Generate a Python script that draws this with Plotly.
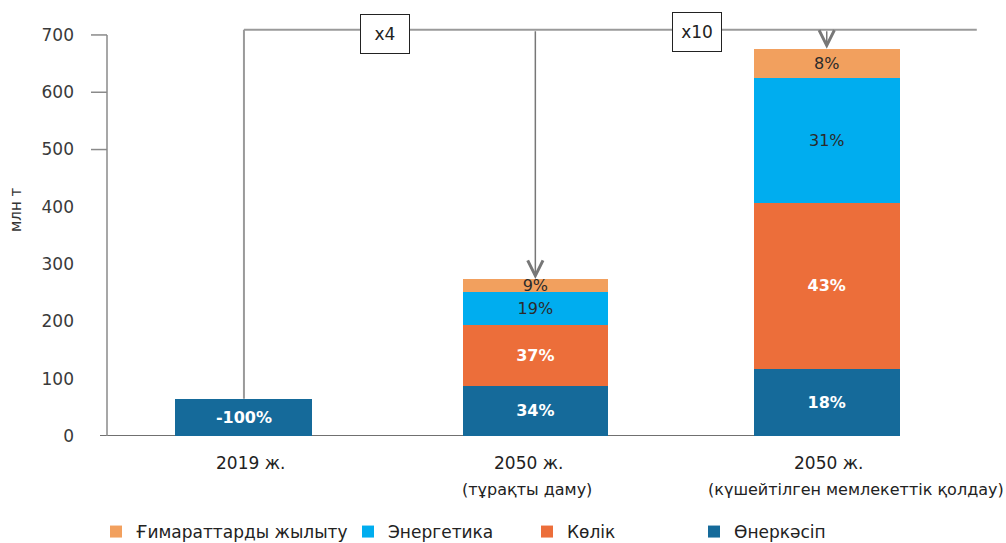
import plotly.graph_objects as go

# Scenario categories (two-line axis labels)
cat_line1 = ["2019 ж.", "2050 ж.", "2050 ж."]
cat_line2 = ["", "(тұрақты даму)", "(күшейтілген мемлекеттік қолдау)"]
x_pos = [0, 1, 2]

# Emissions by sector, млн т
industry = [65, 88, 117]
transport = [None, 106, 290]
energy = [None, 58, 218]
heating = [None, 22, 51]

# Segment labels (share of the scenario total)
industry_pct = ["-100%", "34%", "18%"]
transport_pct = ["", "37%", "43%"]
energy_pct = ["", "19%", "31%"]
heating_pct = ["", "9%", "8%"]

# Growth multipliers shown on the bracket
multipliers = ["x4", "x10"]
multiplier_x = [0.484, 1.554]

y_ticks = [0, 100, 200, 300, 400, 500, 600, 700]

names = ["Өнеркәсіп", "Көлік", "Энергетика", "Ғимараттарды жылыту"]
colors = ["#156a9a", "#ec6e3a", "#00adef", "#f2a05e"]

FONT = "DejaVu Sans"
BRACKET_Y = 709
bar_width = [0.47, 0.5, 0.5]

fig = go.Figure()

series = [
    (industry, industry_pct, "white", True),
    (transport, transport_pct, "white", True),
    (energy, energy_pct, "#2b2b2b", False),
    (heating, heating_pct, "#2b2b2b", False),
]
legend_ids = ["legend4", "legend3", "legend2", "legend"]

for (vals, pct, tcol, bold), name, col, lg in zip(series, names, colors, legend_ids):
    fig.add_trace(go.Bar(
        x=x_pos, y=vals, name=name, width=bar_width,
        marker=dict(color=col, line=dict(width=0)),
        text=[f"<b>{p}</b>" if (bold and p) else p for p in pct],
        textposition="inside", insidetextanchor="middle",
        textangle=0, constraintext="none",
        textfont=dict(family=FONT, size=16, color=tcol),
        legend=lg, hoverinfo="skip",
    ))

totals = [sum(v for v in vals if v is not None)
          for vals in zip(industry, transport, energy, heating)]

PLOT_W = 1006 - 107 - 19
PLOT_H = 543 - 9 - 107
shapes = []
# y axis line and its upper ticks
shapes.append(dict(type="line", xref="paper", yref="y", x0=0, x1=0, y0=0, y1=700,
                   line=dict(color="#8a8a8a", width=1.5)))
for t in [500, 600, 700]:
    shapes.append(dict(type="line", xref="paper", yref="y", x0=-16 / PLOT_W, x1=0,
                       y0=t, y1=t, line=dict(color="#8a8a8a", width=1.5)))
# baseline
shapes.append(dict(type="line", xref="paper", yref="y", x0=-7 / PLOT_W, x1=727 / PLOT_W,
                   y0=0, y1=0, line=dict(color="#707070", width=2), layer="below"))
# bracket connecting the scenarios
shapes.append(dict(type="line", xref="x", yref="y", x0=x_pos[0], x1=2.515,
                   y0=BRACKET_Y, y1=BRACKET_Y, line=dict(color="#9a9a9a", width=2),
                   layer="below"))
shapes.append(dict(type="line", xref="x", yref="y", x0=x_pos[0], x1=x_pos[0],
                   y0=totals[0], y1=BRACKET_Y, line=dict(color="#9a9a9a", width=2),
                   layer="below"))

annotations = []
# arrows from the bracket down to the 2050 totals
for xi in x_pos[1:]:
    annotations.append(dict(x=xi, y=totals[xi], ax=xi, ay=BRACKET_Y,
                            xref="x", yref="y", axref="x", ayref="y",
                            text="", showarrow=True, arrowhead=5, arrowsize=2,
                            arrowwidth=1.5, arrowcolor="#777777"))
# multiplier boxes
for label, mx, yy in zip(multipliers, multiplier_x, [702, 705]):
    annotations.append(dict(x=mx, y=yy, xref="x", yref="y", text=label,
                            showarrow=False, bgcolor="white", bordercolor="#222222",
                            borderwidth=1, width=46, height=36,
                            font=dict(family=FONT, size=17, color="#222222")))
# category labels
first_shift = [7, -7, 2]
second_shift = [0, -8, 29]
for xi, l1, l2, s1, s2 in zip(x_pos, cat_line1, cat_line2, first_shift, second_shift):
    annotations.append(dict(x=xi, y=0, xref="x", yref="paper", text=l1,
                            showarrow=False, yanchor="middle", yshift=-27,
                            xshift=s1,
                            font=dict(family=FONT, size=17, color="#222222")))
    if l2:
        annotations.append(dict(x=xi, y=0, xref="x", yref="paper", text=l2,
                                showarrow=False, yanchor="middle", yshift=-53,
                                xshift=s2,
                                font=dict(family=FONT, size=16, color="#222222")))
# y axis title
annotations.append(dict(x=-91 / PLOT_W, y=(436 - 210) / PLOT_H, xref="paper", yref="paper",
                        xanchor="center", yanchor="middle",
                        text="млн т", textangle=-90, showarrow=False,
                        font=dict(family=FONT, size=15, color="#333333")))

legend_style = dict(orientation="h", yanchor="middle", xanchor="left",
                    y=-96 / PLOT_H, bgcolor="rgba(0,0,0,0)",
                    font=dict(family=FONT, size=17, color="#222222"))
legend_x = [110, 362, 541, 708]

fig.update_layout(
    width=1006, height=543,
    margin=dict(l=107, r=19, t=9, b=107, autoexpand=False),
    barmode="stack",
    plot_bgcolor="white", paper_bgcolor="white",
    font=dict(family=FONT, color="#333333"),
    xaxis=dict(range=[-0.47, 2.55], showticklabels=False, showline=False,
               zeroline=False, showgrid=False, ticks=""),
    yaxis=dict(range=[0, 745.3], tickvals=y_ticks, showline=False, zeroline=False,
               showgrid=False, ticks="", ticklabelstandoff=32,
               tickfont=dict(family=FONT, size=17, color="#3a3a3a")),
    legend=dict(legend_style, x=(legend_x[0] - 14 - 107) / PLOT_W),
    legend2=dict(legend_style, x=(legend_x[1] - 14 - 107) / PLOT_W),
    legend3=dict(legend_style, x=(legend_x[2] - 14 - 107) / PLOT_W),
    legend4=dict(legend_style, x=(legend_x[3] - 14 - 107) / PLOT_W),
    shapes=shapes,
    annotations=annotations,
    showlegend=True,
)

fig.write_html("out.html")
